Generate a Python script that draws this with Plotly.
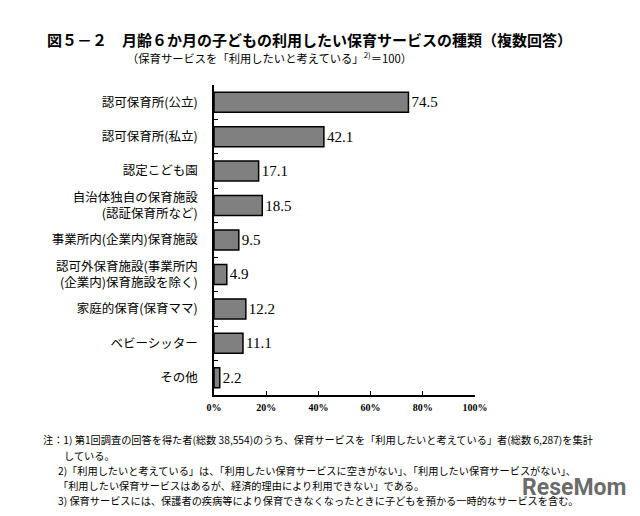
import plotly.graph_objects as go

categories = [
    "認可保育所(公立)",
    "認可保育所(私立)",
    "認定こども園",
    "自治体独自の保育施設<br>(認証保育所など)",
    "事業所内(企業内)保育施設",
    "認可外保育施設(事業所内<br>(企業内)保育施設を除く)",
    "家庭的保育(保育ママ)",
    "ベビーシッター",
    "その他",
]
values = [74.5, 42.1, 17.1, 18.5, 9.5, 4.9, 12.2, 11.1, 2.2]
x_ticks = [0, 20, 40, 60, 80, 100]

title_text = "図５－２　月齢６か月の子どもの利用したい保育サービスの種類（複数回答）"
subtitle_text = "（保育サービスを「利用したいと考えている」<sup>2)</sup>＝100）"
notes = [
    ("注：1) 第1回調査の回答を得た者(総数 38,554)のうち、保育サービスを「利用したいと考えている」者(総数 6,287)を集計", 41, 439),
    ("している。", 62, 455),
    ("2)「利用したいと考えている」は、「利用したい保育サービスに空きがない」、「利用したい保育サービスがない」、", 56, 470),
    ("「利用したい保育サービスはあるが、経済的理由により利用できない」である。", 56, 485),
    ("3) 保育サービスには、保護者の疾病等により保育できなくなったときに子どもを預かる一時的なサービスを含む。", 56, 500),
]

W, H = 640, 516
L, R, T, B = 214, 475, 85, 395

def px(x):
    return (x - L) / (R - L)

def py(y):
    return (B - y) / (B - T)

serif = "Liberation Serif, Noto Sans CJK JP"
sans = "Noto Sans CJK JP"

fig = go.Figure()
fig.add_trace(go.Bar(
    x=values,
    y=categories,
    orientation="h",
    width=0.58,
    marker=dict(color="#808080", line=dict(color="#000000", width=1.5)),
    text=[f"{v:.1f}" for v in values],
    textposition="outside",
    textfont=dict(family=serif, size=15, color="#000000"),
    cliponaxis=False,
))

fig.update_layout(
    width=W, height=H,
    margin=dict(l=L, r=W - R, t=T, b=H - B),
    paper_bgcolor="white",
    plot_bgcolor="white",
    showlegend=False,
    xaxis=dict(
        range=[0, 100],
        tickvals=x_ticks,
        ticktext=[f"<b>{t}%</b>" for t in x_ticks],
        showgrid=False,
        zeroline=False,
        showline=True,
        linecolor="black",
        linewidth=1.5,
        ticks="inside",
        ticklen=4,
        tickcolor="black",
        tickfont=dict(family="Liberation Serif", size=10, color="black"),
        ticklabelstandoff=2,
    ),
    yaxis=dict(
        autorange="reversed",
        showgrid=False,
        showline=True,
        linecolor="black",
        linewidth=1.5,
        ticks="inside",
        tickson="boundaries",
        ticklen=4,
        tickcolor="black",
        tickfont=dict(family=sans, size=12.5, color="black"),
        ticklabelstandoff=12,
    ),
)

fig.add_annotation(text="<b>" + title_text + "</b>", xref="paper", yref="paper",
                   x=px(45), y=py(40), xanchor="left", yanchor="middle", showarrow=False,
                   font=dict(family=sans, size=15, color="black"))
fig.add_annotation(text=subtitle_text, xref="paper", yref="paper",
                   x=px(125), y=py(58), xanchor="left", yanchor="middle", showarrow=False,
                   font=dict(family=sans, size=11.3, color="black"))
for txt, x0, y0 in notes:
    fig.add_annotation(text=txt, xref="paper", yref="paper",
                       x=px(x0), y=py(y0), xanchor="left", yanchor="middle", showarrow=False,
                       font=dict(family=sans, size=10.2, color="black"))
fig.add_annotation(text="<b>ReseMom</b>", xref="paper", yref="paper",
                   x=px(628), y=py(487), xanchor="right", yanchor="middle", showarrow=False,
                   font=dict(family="Roboto", size=23, color="rgba(80,80,80,0.85)"))

fig.write_html("out.html", config={"displayModeBar": False},
               post_script="document.body.style.margin='0px';")
